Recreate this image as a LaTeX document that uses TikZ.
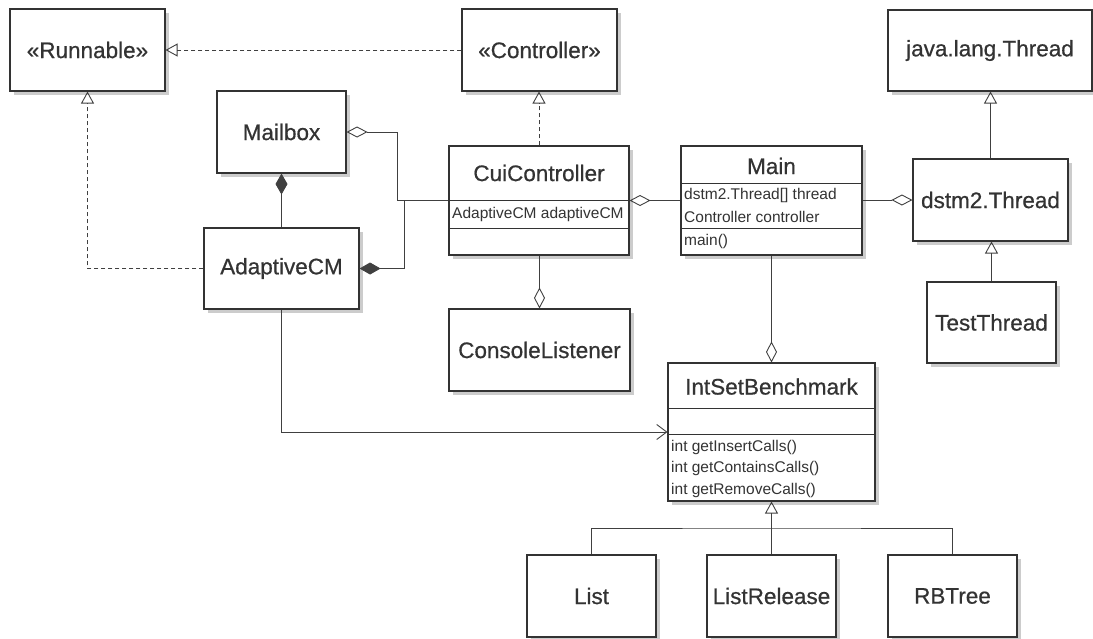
\documentclass[tikz,border=0pt]{standalone}
\usepackage{fontspec}
\setmainfont{Liberation Sans}
\newfontfamily\namefont{Liberation Sans}[FakeBold=0.6]
\usetikzlibrary{arrows.meta, positioning, shadows}

\begin{document}
\begin{tikzpicture}[x=1pt, y=-1pt,
    cls/.style={draw=black!80, line width=1.1pt, fill=white, text=black!80,
        font=\namefont\fontsize{22.5}{27}\selectfont, inner sep=0pt,
        drop shadow={shadow xshift=4pt, shadow yshift=-4pt, fill=black!20, opacity=1}},
    title/.style={inner sep=0pt, text=black!80, font=\namefont\fontsize{22.5}{27}\selectfont},
    member/.style={anchor=west, inner sep=0pt, text=black!80, font=\fontsize{15.5}{18}\selectfont},
    sep/.style={draw=black!80, line width=0.9pt},
    link/.style={draw=black!75, line width=0.9pt},
    realize/.style={link, dash pattern=on 4pt off 3pt, -{Triangle[open, length=12pt, width=13pt]}},
    extend/.style={link, -{Triangle[open, length=12pt, width=13pt]}},
    aggr/.style={link, {Diamond[open, length=21pt, width=11pt]}-},
    comp/.style={link, {Diamond[length=21pt, width=12pt]}-},
    uses/.style={link, -{Straight Barb[length=10pt, width=15pt]}}]
            \useasboundingbox (0,0) rectangle (1093,638);

            % Draw the classes
            \node[cls, minimum width=155pt, minimum height=82pt] (runnable) at (87.5,50) {«Runnable»};
            \node[cls, minimum width=155pt, minimum height=82pt] (controller) at (539.5,50) {«Controller»};
            \node[cls, minimum width=204pt, minimum height=81pt] (jthread) at (990,50.5) {java.lang.Thread};
            \node[cls, minimum width=129pt, minimum height=82pt] (mailbox) at (281.5,132) {Mailbox};
            \node[cls, minimum width=155pt, minimum height=81pt] (adaptive) at (281.5,268.5) {AdaptiveCM};
            \node[cls, minimum width=180pt, minimum height=109pt] (cui) at (539,200.5) {};
            \node[cls, minimum width=181pt, minimum height=109pt] (main) at (771.5,200.5) {};
            \node[cls, minimum width=155pt, minimum height=82pt] (dthread) at (990.5,200) {dstm2.Thread};
            \node[cls, minimum width=129pt, minimum height=81pt] (test) at (991.5,322.5) {TestThread};
            \node[cls, minimum width=181pt, minimum height=82pt] (console) at (539.5,350) {ConsoleListener};
            \node[cls, minimum width=207pt, minimum height=138pt] (intset) at (771.5,432) {};
            \node[cls, minimum width=129pt, minimum height=82pt] (list) at (591.5,596) {List};
            \node[cls, minimum width=129pt, minimum height=82pt] (listrel) at (771.5,596) {ListRelease};
            \node[cls, minimum width=129pt, minimum height=82pt] (rbtree) at (952.5,596) {RBTree};

            % Compartments
            \draw[sep] (449,200) -- (629,200);
            \draw[sep] (449,228) -- (629,228);
            \draw[sep] (681,183) -- (862,183);
            \draw[sep] (681,228) -- (862,228);
            \draw[sep] (668,408) -- (875,408);
            \draw[sep] (668,434) -- (875,434);

            \node[title] (cuiname) at (539,173) {CuiController};
            \node[member] (cuiattr) at (452,214.5) {AdaptiveCM adaptiveCM};

            \node[title] (mainname) at (771.5,166) {Main};
            \node[member] (mainattr1) at (684,195) {dstm2.Thread[] thread};
            \node[member] (mainattr2) at (684,216.5) {Controller controller};
            \node[member] (mainop) at (684,241.5) {main()};

            \node[title] (intsetname) at (771.5,386.5) {IntSetBenchmark};
            \node[member] (insertop) at (671,447) {int getInsertCalls()};
            \node[member] (containsop) at (671,468.5) {int getContainsCalls()};
            \node[member] (removeop) at (671,490) {int getRemoveCalls()};

            % Realizations
            \draw[realize] (controller) -- (runnable);
            \draw[realize] (adaptive.west) -| (runnable.south);
            \draw[realize] (cui.north) -- (cui.north |- controller.south);

            % Aggregations and compositions
            \draw[comp] (mailbox.south) -- (adaptive.north);
            \draw[aggr] (mailbox.east) -- ++(51,0) |- (cui.west);
            \draw[comp] (adaptive.east) -- ++(45,0) |- (cui.west);
            \draw[aggr] (cui.east) -- (main.west);
            \draw[aggr] (dthread.west) -- (dthread.west -| main.east);
            \draw[aggr] (console.north) -- (console.north |- cui.south);
            \draw[aggr] (intset.north) -- (main.south);

            % Generalizations
            \draw[extend] (dthread.north) -- (dthread.north |- jthread.south);
            \draw[extend] (test.north) -- (test.north |- dthread.south);
            \coordinate (fork) at (771.5,528);
            \draw[extend] (listrel.north) -- (intset.south);
            \draw[link] (list.north) |- (fork) -| (rbtree.north);

            % Dependency
            \draw[uses] (adaptive.south) |- (intset.west);
          \end{tikzpicture}
\end{document}
